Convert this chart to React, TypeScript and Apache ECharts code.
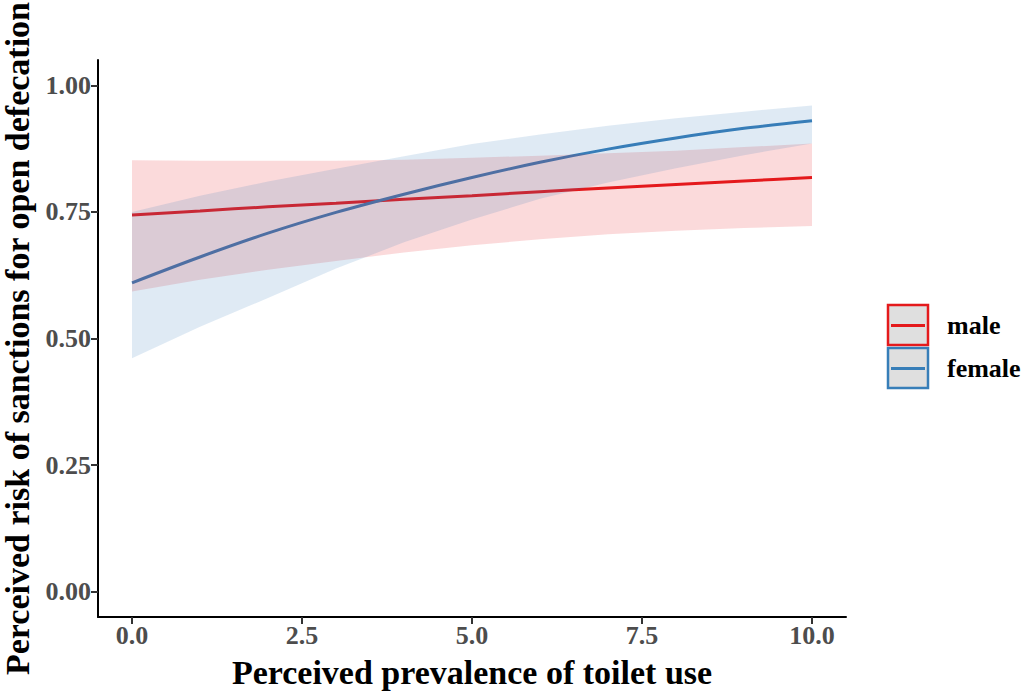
import React, { useEffect, useRef } from "react";
import * as echarts from "echarts";

const xs = [0, 1, 2, 3, 4, 5, 6, 7, 8, 9, 10];
const maleFit = [0.744, 0.752, 0.76, 0.767, 0.775, 0.782, 0.79, 0.797, 0.804, 0.811, 0.818];
const maleUpper = [0.852, 0.851, 0.851, 0.851, 0.853, 0.857, 0.861, 0.866, 0.871, 0.878, 0.885];
const maleLower = [0.593, 0.616, 0.636, 0.653, 0.67, 0.684, 0.696, 0.706, 0.713, 0.718, 0.722];
const femaleFit = [0.61, 0.661, 0.708, 0.749, 0.785, 0.818, 0.848, 0.874, 0.896, 0.915, 0.93];
const femaleUpper = [0.75, 0.782, 0.81, 0.835, 0.86, 0.884, 0.903, 0.92, 0.935, 0.948, 0.96];
const femaleLower = [0.461, 0.523, 0.58, 0.638, 0.69, 0.735, 0.776, 0.808, 0.836, 0.862, 0.885];
const xTicks = [0, 2.5, 5, 7.5, 10];
const yTicks = [0, 0.25, 0.5, 0.75, 1];
const groups = ["male", "female"];

const RED = "#E41A1C";
const BLUE = "#377EB8";
const FONT = "Liberation Serif, Times New Roman, serif";

function bandSeries(name: string, upper: number[], lower: number[], color: string) {
  return {
    type: "custom",
    name,
    silent: true,
    data: xs.map((x, i) => [x, lower[i], upper[i]]),
    encode: { x: 0, y: [1, 2] },
    renderItem: (params: any, api: any) => {
      if (params.dataIndex !== 0) return null;
      const pts: number[][] = [];
      for (let i = 0; i < xs.length; i++) pts.push(api.coord([xs[i], upper[i]]));
      for (let i = xs.length - 1; i >= 0; i--) pts.push(api.coord([xs[i], lower[i]]));
      return {
        type: "polygon",
        shape: { points: pts },
        style: { fill: color, opacity: 0.16 },
      };
    },
    z: 3,
  };
}

function lineSeries(name: string, fit: number[], color: string) {
  return {
    type: "line",
    name,
    data: xs.map((x, i) => [x, fit[i]]),
    smooth: 0.3,
    showSymbol: false,
    lineStyle: { color, width: 3 },
    z: 2,
  };
}

export default function App() {
  const ref = useRef<HTMLDivElement>(null);
  useEffect(() => {
    if (!ref.current) return;
    const chart = echarts.init(ref.current, null, { renderer: "svg" });
    const legendItems: any[] = [];
    const colors = [RED, BLUE];
    groups.forEach((g, i) => {
      const top = 305 + i * 43;
      legendItems.push({
        type: "rect",
        shape: { x: 888, y: top, width: 40, height: 40 },
        style: { fill: "#dfdfdf", stroke: colors[i], lineWidth: 2.5 },
      });
      legendItems.push({
        type: "line",
        shape: { x1: 891, y1: top + 20.5, x2: 925, y2: top + 20.5 },
        style: { stroke: colors[i], lineWidth: 3 },
      });
      legendItems.push({
        type: "text",
        x: 947,
        y: top + 20,
        style: {
          text: g,
          font: `bold 26px ${FONT}`,
          fill: "#000",
          textVerticalAlign: "middle",
          textAlign: "left",
        },
      });
    });

    chart.setOption({
      animation: false,
      backgroundColor: "#fff",
      grid: { left: 98, right: 178, top: 60, bottom: 75, containLabel: false, outerBoundsMode: "none" },
      xAxis: {
        type: "value",
        min: -0.5,
        max: 10.5,
        name: "Perceived prevalence of toilet use",
        nameLocation: "middle",
        nameGap: 38,
        nameTextStyle: { fontFamily: FONT, fontWeight: "bold", fontSize: 34, color: "#000" },
        axisLine: { show: true, onZero: false, lineStyle: { color: "#000", width: 2 } },
        axisTick: { show: true, length: 7, customValues: xTicks, lineStyle: { color: "#333", width: 2 } },
        axisLabel: {
          customValues: xTicks,
          formatter: (v: number) => v.toFixed(1),
          fontFamily: FONT,
          fontWeight: "bold",
          fontSize: 26,
          color: "#4d4d4d",
          margin: 5,
        },
        splitLine: { show: false },
      },
      yAxis: {
        type: "value",
        min: -0.05,
        max: 1.05,
        name: "Perceived risk of sanctions for open defecation",
        nameLocation: "middle",
        nameRotate: 90,
        nameGap: 62,
        nameTextStyle: { fontFamily: FONT, fontWeight: "bold", fontSize: 34, color: "#000" },
        axisLine: { show: true, onZero: false, lineStyle: { color: "#000", width: 2 } },
        axisTick: { show: true, length: 7, customValues: yTicks, lineStyle: { color: "#333", width: 2 } },
        axisLabel: {
          customValues: yTicks,
          formatter: (v: number) => v.toFixed(2),
          fontFamily: FONT,
          fontWeight: "bold",
          fontSize: 26,
          color: "#4d4d4d",
          margin: 7,
        },
        splitLine: { show: false },
      },
      series: [
        lineSeries("male", maleFit, RED),
        lineSeries("female", femaleFit, BLUE),
        bandSeries("male band", maleUpper, maleLower, RED),
        bandSeries("female band", femaleUpper, femaleLower, BLUE),
      ],
      graphic: legendItems,
    });
    return () => chart.dispose();
  }, []);
  return <div ref={ref} style={{ width: 1024, height: 692, position: "absolute", left: 0, top: 0 }} />;
}
